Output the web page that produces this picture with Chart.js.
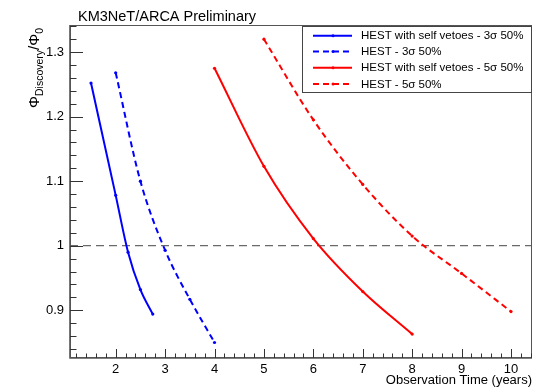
<!DOCTYPE html>
<html>
<head>
<meta charset="utf-8">
<script src="https://cdn.jsdelivr.net/npm/chart.js@4"></script>
<style>
  html, body { margin: 0; padding: 0; background: #fff; }
  #wrap { width: 546px; height: 388px; }
</style>
</head>
<body>
<div id="wrap"><canvas id="chart" width="546" height="388"></canvas></div>
<script>
// values
const blueSolidX = [1.5, 2.0, 2.25, 2.5, 2.75];
const blueSolidY = [1.252, 1.078, 0.99, 0.932, 0.894];
const blueDashX = [2.0, 2.5, 3.0, 3.5, 4.0];
const blueDashY = [1.268, 1.100, 0.993, 0.917, 0.850];
const redSolidX = [4, 5, 6, 7, 8];
const redSolidY = [1.275, 1.123, 1.011, 0.929, 0.863];
const redDashX = [5, 6, 7, 8, 9, 10];
const redDashY = [1.320, 1.195, 1.095, 1.015, 0.957, 0.898];

const seriesLabels = [
  "HEST with self vetoes - 3\u03c3 50%",
  "HEST - 3\u03c3 50%",
  "HEST with self vetoes - 5\u03c3 50%",
  "HEST - 5\u03c3 50%"
];

const xTicks = [2, 3, 4, 5, 6, 7, 8, 9, 10];
const yTicks = [0.9, 1, 1.1, 1.2, 1.3];
const xRange = [1.075, 10.425];
const yRange = [0.826, 1.342];
const refLevel = 1;

const FONT = "'Liberation Sans', Arial, sans-serif";

const toPoints = (xs, ys) => xs.map((x, i) => ({ x: x, y: ys[i] }));

function makeSeries(label, xs, ys, color, dash) {
  return {
    label: label,
    data: toPoints(xs, ys),
    borderColor: color,
    backgroundColor: color,
    borderWidth: 2,
    borderDash: dash,
    pointRadius: 1.6,
    pointBorderWidth: 0,
    showLine: true,
    cubicInterpolationMode: 'monotone'
  };
}

const datasets = [
  makeSeries(seriesLabels[0], blueSolidX, blueSolidY, '#0000ff', []),
  makeSeries(seriesLabels[1], blueDashX, blueDashY, '#0000ff', [6, 4]),
  makeSeries(seriesLabels[2], redSolidX, redSolidY, '#ff0000', []),
  makeSeries(seriesLabels[3], redDashX, redDashY, '#ff0000', [6, 4]),
  {
    label: 'ref',
    data: [{ x: xRange[0], y: refLevel }, { x: xRange[1], y: refLevel }],
    borderColor: '#444',
    borderWidth: 1,
    borderDash: [8, 5],
    pointRadius: 0,
    showLine: true
  }
];

// frame, inner ticks, title, y title and legend, ROOT style
const rootDecor = {
  id: 'rootDecor',
  afterDatasetsDraw(chart) {
    const ctx = chart.ctx;
    const a = chart.chartArea;
    const xs = chart.scales.x;
    const ys = chart.scales.y;
    ctx.save();

    // frame
    ctx.strokeStyle = '#555';
    ctx.lineWidth = 1;
    ctx.strokeRect(a.left + 0.5, a.top + 0.5, a.right - a.left - 1, a.bottom - a.top - 1);
    ctx.lineWidth = 1.6;
    ctx.beginPath();
    ctx.moveTo(a.left, a.top);
    ctx.lineTo(a.left, a.bottom);
    ctx.lineTo(a.right, a.bottom);
    ctx.stroke();

    // x ticks
    ctx.strokeStyle = '#333';
    ctx.lineWidth = 1;
    ctx.beginPath();
    for (let v = 1.2; v < xRange[1]; v += 0.2) {
      const r = Math.round(v * 10) / 10;
      const px = Math.round(xs.getPixelForValue(r)) + 0.5;
      const len = Number.isInteger(r) ? 9 : 4.5;
      ctx.moveTo(px, a.bottom);
      ctx.lineTo(px, a.bottom - len);
    }
    // y ticks
    for (let v = 0.84; v < yRange[1]; v += 0.02) {
      const r = Math.round(v * 100) / 100;
      const py = Math.round(ys.getPixelForValue(r)) + 0.5;
      const major = Math.abs(r * 10 - Math.round(r * 10)) < 1e-6;
      const len = major ? 13 : 6.5;
      ctx.moveTo(a.left, py);
      ctx.lineTo(a.left + len, py);
    }
    ctx.stroke();

    // title
    ctx.fillStyle = '#000';
    ctx.font = '14.5px ' + FONT;
    ctx.textBaseline = 'alphabetic';
    ctx.textAlign = 'left';
    ctx.fillText('KM3NeT/ARCA Preliminary', 78, 20.5);

    // y axis title, rotated
    ctx.save();
    ctx.translate(39, 108);
    ctx.rotate(-Math.PI / 2);
    let x = 0;
    const big = '15px ' + FONT;
    const small = '10.5px ' + FONT;
    const parts = [['\u03a6', big, 0], ['Discovery', small, 3.5], ['/\u03a6', big, 0], ['0', small, 3.5]];
    parts.forEach(p => {
      ctx.font = p[1];
      ctx.fillText(p[0], x, p[2]);
      x += ctx.measureText(p[0]).width;
    });
    ctx.restore();

    // legend
    const lx = 302, ly = 26, lw = 229, lh = 66;
    ctx.fillStyle = '#fff';
    ctx.fillRect(lx, ly, lw, lh);
    ctx.strokeStyle = '#444';
    ctx.lineWidth = 1;
    ctx.strokeRect(lx + 0.5, ly + 0.5, lw, lh);
    ctx.font = '11.5px ' + FONT;
    ctx.textBaseline = 'middle';
    const rows = [35.7, 51.5, 67.8, 84];
    chart.data.datasets.slice(0, 4).forEach((ds, i) => {
      const y = rows[i];
      ctx.strokeStyle = ds.borderColor;
      ctx.lineWidth = 2;
      ctx.setLineDash(ds.borderDash);
      ctx.beginPath();
      ctx.moveTo(313, y);
      ctx.lineTo(352, y);
      ctx.stroke();
      ctx.setLineDash([]);
      ctx.fillStyle = ds.borderColor;
      ctx.beginPath();
      ctx.arc(333, y, 1.5, 0, Math.PI * 2);
      ctx.fill();
      ctx.fillStyle = '#000';
      ctx.fillText(ds.label, 361, y + 0.5);
    });
    ctx.restore();
  }
};

new Chart(document.getElementById('chart'), {
  type: 'scatter',
  data: { datasets: datasets },
  options: {
    responsive: false,
    animation: false,
    layout: { padding: { top: 25, right: 14, left: 0, bottom: 0 } },
    plugins: {
      legend: { display: false },
      tooltip: { enabled: false },
      title: { display: false }
    },
    scales: {
      x: {
        type: 'linear',
        min: xRange[0],
        max: xRange[1],
        grid: { display: false, drawTicks: false },
        border: { display: false },
        afterBuildTicks: s => { s.ticks = xTicks.map(v => ({ value: v })); },
        afterFit: s => { s.height = 30; },
        ticks: {
          color: '#000',
          padding: 4,
          maxRotation: 0,
          autoSkip: false,
          font: { family: FONT, size: 13 },
          callback: v => String(v)
        },
        title: {
          display: true,
          text: 'Observation Time (years)',
          align: 'end',
          color: '#000',
          padding: { top: 0, bottom: 0 },
          font: { family: FONT, size: 13 }
        }
      },
      y: {
        type: 'linear',
        min: yRange[0],
        max: yRange[1],
        grid: { display: false, drawTicks: false },
        border: { display: false },
        afterBuildTicks: s => { s.ticks = yTicks.map(v => ({ value: v })); },
        afterFit: s => { s.width = 70; },
        ticks: {
          color: '#000',
          padding: 6,
          autoSkip: false,
          font: { family: FONT, size: 13 },
          callback: v => String(Math.round(v * 10) / 10)
        }
      }
    }
  },
  plugins: [rootDecor]
});
</script>
</body>
</html>
